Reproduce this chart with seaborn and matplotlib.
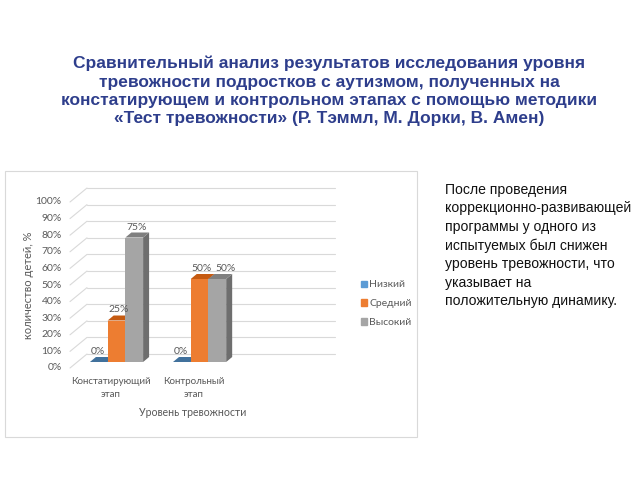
import numpy as np
import pandas as pd
import matplotlib
matplotlib.use("Agg")
import matplotlib.pyplot as plt
import seaborn as sns
from matplotlib.patches import Polygon, Rectangle, Patch
from matplotlib.lines import Line2D
from matplotlib.transforms import IdentityTransform, ScaledTranslation

# ---------------- data ----------------
stages = ["Констатирующий\nэтап", "Контрольный\nэтап"]
levels = ["Низкий", "Средний", "Высокий"]
low_pct = [0, 0]
mid_pct = [25, 50]
high_pct = [75, 50]
y_ticks = list(range(0, 101, 10))
y_tick_labels = [f"{v}%" for v in y_ticks]

title = ("Сравнительный анализ результатов исследования уровня\n"
         "тревожности подростков с аутизмом, полученных на\n"
         "констатирующем и контрольном этапах с помощью методики\n"
         "«Тест тревожности» (Р. Тэммл, М. Дорки, В. Амен)")
note = ("После проведения\nкоррекционно-развивающей\nпрограммы у одного из\n"
        "испытуемых был снижен\nуровень тревожности, что\nуказывает на\n"
        "положительную динамику.")
y_label = "количество детей, %"
x_label = "Уровень тревожности"

df = pd.DataFrame({
    "stage": stages * 3,
    "level": [levels[0]] * 2 + [levels[1]] * 2 + [levels[2]] * 2,
    "value": low_pct + mid_pct + high_pct,
})

# ---------------- style ----------------
sns.set_theme(style="white")
plt.rcParams['font.family'] = ['Lato', 'DejaVu Sans']

front_cols = ["#5B9BD5", "#ED7D31", "#A5A5A5"]
top_cols = ["#41719C", "#C55A11", "#7F7F7F"]
side_cols = ["#3A6690", "#B0521A", "#6E6E6E"]
txt_col = "#595959"
grid_col = "#D9D9D9"

W, H = 640, 480
fig = plt.figure(figsize=(6.4, 4.8), dpi=100)
fig.patch.set_facecolor("white")

def fx(px):
    return px / W

def fy(py):
    return 1 - py / H

# chart frame
fig.patches.append(Rectangle((fx(5), fy(437)), fx(417) - fx(5), fy(171) - fy(437),
                             transform=fig.transFigure, fill=False,
                             ec=grid_col, lw=0.8))

ax = fig.add_axes([fx(70), fy(362), fx(335) - fx(70), fy(196) - fy(362)])
ax.patch.set_visible(False)

sns.barplot(data=df, x="stage", y="value", hue="level", hue_order=levels,
            palette=front_cols, width=0.64, saturation=1, legend=False,
            linewidth=0, ax=ax)

ax.set_xlim(-0.56, 2.63)
ax.set_ylim(0, 100)
for s in ax.spines.values():
    s.set_visible(False)
ax.tick_params(length=0)

ax.set_yticks(y_ticks, labels=y_tick_labels)
ax.tick_params(axis="y", labelsize=7.5, labelcolor=txt_col, pad=6)
for lab in ax.get_yticklabels():
    lab.set_transform(lab.get_transform() + ScaledTranslation(0, -0.05, fig.dpi_scale_trans))

ax.set_xticks(range(len(stages)), labels=stages)
ax.tick_params(axis="x", labelsize=7, labelcolor=txt_col, pad=11)
for lab in ax.get_xticklabels():
    lab.set_linespacing(1.55)
    lab.set_transform(lab.get_transform() + ScaledTranslation(-0.055, 0, fig.dpi_scale_trans))

ax.set_xlabel(x_label, fontsize=7.6, color=txt_col, va="center")
ax.xaxis.set_label_coords(0.464, -0.307)
ax.set_ylabel("")

ident = IdentityTransform()
# 3D-looking walls / gridlines
xl0, xl1 = ax.get_xlim()
for v in y_ticks:
    px, py = ax.transData.transform((xl0, v))
    pr, _ = ax.transData.transform((xl1, v))
    front = (px, py - 6)
    back = (px + 17, py + 8)
    for xs, ys in [([front[0], back[0]], [front[1], back[1]]),
                   ([back[0], pr], [back[1], back[1]])]:
        ln = Line2D(xs, ys, color=grid_col, lw=0.8, transform=ident, zorder=0.5)
        ax.add_artist(ln)
        ln.set_clip_on(False)

# bars with depth faces + value labels
dx, dy = 6, 5
renderer = fig.canvas.get_renderer()
labels_by_group = {}
for i, cont in enumerate(ax.containers):
    for g, bar in enumerate(cont):
        bar.set_zorder(2 + i)
        bx, by, bw, bh = bar.get_x(), bar.get_y(), bar.get_width(), bar.get_height()
        x0, y0 = ax.transData.transform((bx, by))
        x1, y1 = ax.transData.transform((bx + bw, by + bh))
        top = Polygon([(x0, y1), (x1, y1), (x1 + dx, y1 + dy), (x0 + dx, y1 + dy)],
                      closed=True, fc=top_cols[i], ec="none", transform=ident,
                      zorder=2 + i + 0.5)
        side = Polygon([(x1, y0), (x1 + dx, y0 + dy), (x1 + dx, y1 + dy), (x1, y1)],
                       closed=True, fc=side_cols[i], ec="none", transform=ident,
                       zorder=2 + i + 0.5)
        for p in (side, top):
            ax.add_artist(p)
            p.set_clip_on(False)
        t = ax.text(x0 + 1, y1 + dy + 1, f"{int(round(bh))}%",
                    transform=ident, ha="left", va="bottom", fontsize=7.5,
                    color=txt_col, zorder=10)
        # avoid overlapping the previous label of the same group
        prev = labels_by_group.get(g)
        if prev is not None:
            pb = prev.get_window_extent(renderer)
            tb = t.get_window_extent(renderer)
            if tb.overlaps(pb):
                t.set_x(pb.x1 + 3)
        labels_by_group[g] = t

# legend
handles = [Patch(color=c) for c in front_cols]
fig.legend(handles, levels, loc="upper left", bbox_to_anchor=(fx(352), fy(271)),
           frameon=False, handlelength=0.55, handleheight=0.55, handletextpad=0.2,
           labelspacing=0.95, fontsize=7.5, labelcolor=txt_col)

# y label
fig.text(fx(28), fy(285), y_label, rotation=90, ha="center", va="center",
         fontsize=8, color=txt_col)

# title
fig.text(fx(329), fy(91), title, ha="center", va="center", fontsize=12.5,
         fontweight="bold", color="#2E3E8C", linespacing=1.27,
         family=["Liberation Sans", "DejaVu Sans"])

# side note
fig.text(fx(445), fy(183), note, ha="left", va="top", fontsize=10.1,
         color="#111111", linespacing=1.4,
         family=["Liberation Sans", "DejaVu Sans"])

fig.savefig("out.png", dpi=100, facecolor="white")
